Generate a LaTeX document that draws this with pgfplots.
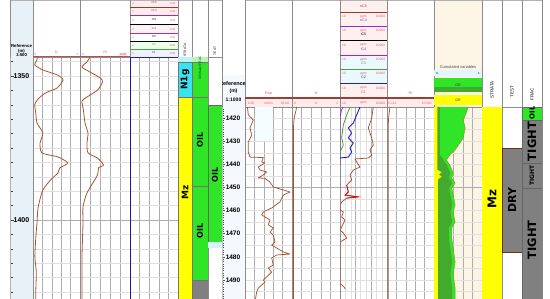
\documentclass[border=0pt]{standalone}
\usepackage{pgfplots}
\pgfplotsset{compat=1.18}
\usepackage{fontspec}
\setmainfont{Liberation Sans}
\newfontfamily\dv{DejaVu Sans}
\definecolor{crv}{RGB}{168,84,48}
\definecolor{hred}{RGB}{190,80,66}
\definecolor{ptxt}{RGB}{222,96,120}
\definecolor{ogreen}{RGB}{48,228,40}
\definecolor{dgreen}{RGB}{66,170,44}
\definecolor{scyan}{RGB}{55,228,240}
\definecolor{syel}{RGB}{255,255,0}
\definecolor{tgray}{RGB}{128,128,128}
\definecolor{beige}{RGB}{252,245,230}
\definecolor{dbg}{RGB}{232,240,248}
\definecolor{gpurp}{RGB}{150,40,220}
\definecolor{gblue}{RGB}{30,30,200}
\definecolor{ggreen}{RGB}{70,160,60}
\definecolor{cfive}{RGB}{150,60,45}
\newcommand{\fsz}[1]{\fontsize{#1}{#1}\selectfont}
\pgfplotsset{
  trk/.style={scale only axis, anchor=north west, y dir=reverse,
    axis line style={draw=black!45, line width=0.4pt},
    major tick length=0pt, minor tick length=0pt,
    xticklabels={}, yticklabels={},
    xmajorgrids, ymajorgrids, yminorgrids,
    major grid style={draw=black!32, line width=0.35pt},
    minor grid style={draw=black!12, line width=0.3pt}},
  box/.style={scale only axis, anchor=north west, y dir=reverse,
    axis line style={draw=black!45, line width=0.4pt},
    xmin=0, xmax=1, xtick=\empty, ytick=\empty},
  lp/.style={ymin=1343.4, ymax=1428.47, height=245pt},
  lpg/.style={lp, ytick={1400}, minor ytick={1345,1350,...,1425}},
  rp/.style={ymin=1415.25, ymax=1499.52, height=195pt},
  rpg/.style={rp, ytick={1450}, minor ytick={1420,1425,...,1495}},
}
\begin{document}
\begin{tikzpicture}
\path[use as bounding box] (0pt,0pt) rectangle (550pt,-299pt);
% backgrounds
\fill[dbg] (10pt,0pt) rectangle (33pt,-302pt);
\fill[dbg!45] (222pt,-75pt) rectangle (245pt,-302pt);
\fill[beige] (434pt,0pt) rectangle (482pt,-107pt);
\fill[red!7] (130pt,0pt) rectangle (178pt,-15pt);
\fill[magenta!5] (130pt,-24pt) rectangle (178pt,-33pt);
\fill[green!8] (130pt,-41pt) rectangle (178pt,-49pt);
\fill[blue!5] (130pt,-49pt) rectangle (178pt,-57pt);
\fill[red!6] (340pt,0pt) rectangle (387pt,-55pt);
\fill[cyan!8] (340pt,-55pt) rectangle (387pt,-84pt);
\fill[red!6] (340pt,-84pt) rectangle (387pt,-98pt);
\fill[red!8] (245pt,-98pt) rectangle (434pt,-107pt);

% ===== LEFT PANEL =====
\begin{axis}[scale only axis, anchor=north west, at={(10pt,-57pt)}, width=23pt, lp, y dir=reverse,
  xmin=0, xmax=1, axis x line=none, axis y line*=left, axis line style={draw=black!30},
  ytick={1350,1400}, minor ytick={1345,1350,...,1425},
  tick align=inside, major tick length=4pt, minor tick length=3pt,
  every tick/.style={black!75, line width=0.5pt},
  yticklabel style={anchor=center, xshift=11.5pt, font=\bfseries\fsz{7}},
  /pgf/number format/assume math mode=true, /pgf/number format/1000 sep={}]
\end{axis}
\begin{axis}[trk, lpg, at={(33pt,-57pt)}, width=47pt, xmin=0, xmax=100, xtick={20,40,60,80}]
\addplot[crv, line width=0.8pt, smooth, tension=0.4] coordinates {(9,1343.4)(8.5,1344.4)(4,1346.2)(21,1347.9)(53,1349.7)(64,1351.4)(51,1354.2)(30,1355.6)(15,1357.3)(4,1359.7)(6,1363)(8.5,1366.3)(21,1369.8)(15,1373.3)(19,1376.7)(53,1378.1)(74,1380.2)(57,1381.9)(53,1383.7)(38,1386)(21,1389.6)(11,1395.5)(8.5,1401)(6,1406)(4,1412.8)(7,1418)(6,1424.3)(6,1428.5)};
\end{axis}
\begin{axis}[trk, lpg, at={(80pt,-57pt)}, width=50pt, xmin=0, xmax=100, xtick={20,40,60,80}]
\addplot[crv, line width=0.8pt, smooth, tension=0.4] coordinates {(20,1343.4)(14,1345.1)(4,1346.9)(20,1348.6)(41,1350.7)(45,1352.1)(35,1354.9)(14,1357.3)(4,1358.7)(7,1362)(10,1366.3)(16,1369.8)(14,1373.3)(16,1376.7)(35,1378.5)(47,1380.9)(37,1381.9)(35,1384.4)(14,1390.6)(6,1395.5)(6,1401)(4,1412.8)(4,1428.5)};
\end{axis}
\begin{axis}[trk, lpg, at={(130pt,-57pt)}, width=48pt, xmin=0, xmax=100, xtick={20,40,60,80}]
\addplot[gblue!80!black, line width=0.8pt] coordinates {(1,1343.4)(1,1428.47)};
\end{axis}
\begin{axis}[box, lp, at={(178pt,-57pt)}, width=14pt]
\addplot[fill=scyan!35, draw=none] coordinates {(0,1343.4)(1,1343.4)(1,1345.1)(0,1345.1)} -- cycle;
\addplot[fill=scyan, draw=black!55, line width=0.3pt] coordinates {(0,1345.1)(1,1345.1)(1,1357.3)(0,1357.3)} -- cycle;
\addplot[fill=syel, draw=black!55, line width=0.3pt] coordinates {(0,1357.3)(1,1357.3)(1,1428.47)(0,1428.47)} -- cycle;
\node[rotate=90, font=\dv\bfseries\fsz{9}] at (axis cs:0.5,1351.2) {N1g};
\node[rotate=90, font=\dv\bfseries\fsz{9}] at (axis cs:0.5,1390.3) {Mz};
\end{axis}
\begin{axis}[box, lp, at={(192pt,-57pt)}, width=16pt]
\addplot[fill=ogreen!35, draw=none] coordinates {(0,1343.4)(1,1343.4)(1,1345.1)(0,1345.1)} -- cycle;
\addplot[fill=ogreen, draw=black!55, line width=0.3pt] coordinates {(0,1345.1)(1,1345.1)(1,1357.3)(0,1357.3)} -- cycle;
\addplot[fill=ogreen, draw=black!55, line width=0.3pt] coordinates {(0,1357.3)(1,1357.3)(1,1388.2)(0,1388.2)} -- cycle;
\addplot[fill=ogreen, draw=black!55, line width=0.3pt] coordinates {(0,1388.2)(1,1388.2)(1,1420.8)(0,1420.8)} -- cycle;
\addplot[fill=tgray, draw=black!55, line width=0.3pt] coordinates {(0,1420.8)(1,1420.8)(1,1428.47)(0,1428.47)} -- cycle;
\node[rotate=90, font=\dv\bfseries\fsz{8}] at (axis cs:0.5,1372.2) {OIL};
\node[rotate=90, font=\dv\bfseries\fsz{8}] at (axis cs:0.5,1403.8) {OIL};
\end{axis}
\begin{axis}[box, lp, at={(208pt,-57pt)}, width=14pt]
\addplot[fill=ogreen, draw=black!60, line width=0.3pt] coordinates {(0,1360.1)(1,1360.1)(1,1407.6)(0,1407.6)} -- cycle;
\addplot[fill=cyan!15, draw=none] coordinates {(0,1407.7)(1,1407.7)(1,1409.7)(0,1409.7)} -- cycle;
\node[rotate=90, font=\dv\bfseries\fsz{8}] at (axis cs:0.5,1384.4) {OIL};
\end{axis}

% ===== RIGHT PANEL =====
\begin{axis}[scale only axis, anchor=north west, at={(222pt,-107pt)}, width=23pt, rp, y dir=reverse,
  xmin=0, xmax=1, axis x line=none, axis y line*=left, axis line style={draw=black!25},
  ytick={1420,1430,...,1490}, minor ytick={1416,1417,...,1499},
  tick align=inside, major tick length=3pt, minor tick length=1.8pt,
  every tick/.style={black!70, line width=0.45pt},
  yticklabel style={anchor=center, xshift=11pt, font=\bfseries\fsz{6.5}},
  /pgf/number format/assume math mode=true, /pgf/number format/1000 sep={}]
\end{axis}
\begin{axis}[trk, rpg, at={(245pt,-107pt)}, width=47pt, xmin=0.56, xmax=56.66, xtick={11.78,23.0,34.22,45.44}]
\addplot[fill=cyan!4, draw=none] coordinates {(12.5,1415.25)(34,1415.25)(34,1430)(12.5,1430)} -- cycle;
\addplot[crv, line width=0.75pt, line join=round] coordinates {(3.5,1415.25)(4.5,1418.7)(10.5,1420.9)(6.5,1424.3)(8.6,1427.3)(4.5,1430.4)(4.5,1434.7)(6.5,1436.9)(22.4,1437.1)(20.5,1439.0)(24.4,1439.4)(16.4,1441.2)(18.5,1442.5)(26.5,1443.3)(22.4,1444.6)(16.4,1445.9)(24.4,1446.1)(30.4,1447.7)(34.3,1449.8)(46.3,1451.1)(54.3,1452.0)(46.3,1453.3)(42.3,1456.3)(32.4,1458.9)(22.4,1460.6)(20.5,1461.9)(26.5,1463.2)(30.4,1464.1)(28.4,1466.2)(34.3,1467.5)(30.4,1469.3)(34.3,1470.6)(36.4,1473.6)(32.4,1474.9)(46.3,1477.9)(54.3,1478.8)(38.4,1479.2)(32.4,1480.5)(34.3,1483.5)(28.4,1484.8)(32.4,1486.6)(26.5,1488.7)(22.4,1490.0)(24.4,1490.9)(16.4,1493.5)(14.5,1495.2)(12.5,1499.5)};
\end{axis}
\begin{axis}[trk, rpg, at={(292pt,-107pt)}, width=48pt, xmin=0, xmax=5, xtick={1,2,3,4}]
\addplot[crv, line width=0.75pt, smooth] coordinates {(0.48,1415.25)(0.4,1417)(0.25,1419.5)(0.17,1423)(0.15,1430)(0.16,1445)(0.15,1460)(0.16,1480)(0.15,1499.52)};
\end{axis}
\begin{axis}[trk, rpg, at={(340pt,-107pt)}, width=47pt, xmode=log, xmin=10, xmax=10000,
  xtick={100,1000}, minor xtick={20,50,200,500,2000,5000}, xminorgrids]
\addplot[gpurp, line width=0.8pt] coordinates {(15,1415.25)(12,1417)(10,1420)(10,1440)};
\addplot[ggreen, line width=0.8pt] coordinates {(43.5,1415.25)(26.8,1418.7)(16.3,1423.0)(12.8,1428.6)(16.3,1431.7)(10,1434.7)(10,1436.9)};
\addplot[gblue, line width=0.9pt] coordinates {(189,1415.25)(116,1418.7)(70.6,1422.2)(33.9,1424.3)(55.8,1426.5)(33.9,1428.6)(70.6,1430.8)(43.5,1433.0)(55.8,1434.7)(33.9,1436.9)(10,1437.3)};
\addplot[crv, line width=0.75pt, line join=round] coordinates {(1336,1415.25)(1054,1420)(640,1424.3)(1054,1428.6)(1336,1431.7)(822,1433.8)(1054,1436.0)(640,1437.3)(90.6,1437.7)(116,1439.0)(189,1441.2)(70.6,1442.5)(43.5,1444.6)(55.8,1446.8)(26.8,1449.0)(33.9,1452.0)(20.8,1453.3)(147,1454.1)(26.8,1454.6)(12.8,1456.3)(10,1457.6)(10,1459.8)(16.3,1460.6)(12.8,1462.8)(20.8,1464.1)(12.8,1467.1)(10,1468.4)(16.3,1469.7)(26.8,1471.9)(10,1473.6)(10,1491.5)(18,1493.0)(22,1494.0)};
\addplot[red!85!black, line width=0.75pt] coordinates {(26.8,1449.0)(33.9,1452.0)(20.8,1453.3)(147,1454.1)(26.8,1454.6)};
\end{axis}
\begin{axis}[trk, rpg, at={(387pt,-107pt)}, width=47pt, xmin=0.113, xmax=83.581, xtick={16.8,33.5,50.2,66.9}]
\addplot[crv, line width=0.75pt, smooth] coordinates {(5.4,1415.25)(4.5,1417)(3,1420)(2.4,1425)(2.5,1450)(2.4,1499.52)};
\end{axis}
\begin{axis}[trk, rpg, at={(434pt,-107pt)}, width=48pt, xmin=0, xmax=1, xtick={0.2,0.4,0.6,0.8},
  axis background/.style={fill=beige}]
\addplot[fill=ogreen, draw=none] coordinates {(0,1415.25)(0.71,1415.25)(0.68,1417.4)(0.61,1420.9)(0.65,1424.3)(0.61,1428.6)(0.51,1431.7)(0.44,1433.8)(0.33,1436.0)(0.26,1438.2)(0.33,1440.3)(0.40,1443.8)(0.37,1445.9)(0.44,1448.1)(0.37,1450.3)(0.40,1453.3)(0.44,1457.6)(0.40,1460.6)(0.44,1464.9)(0.37,1467.5)(0.37,1471.9)(0.40,1476.2)(0.44,1482.2)(0.40,1487.8)(0.44,1493.5)(0.44,1499.52)(0,1499.52)} -- cycle;
\addplot[olive!70!brown, line width=0.4pt] coordinates {(0.71,1415.25)(0.68,1417.4)(0.61,1420.9)(0.65,1424.3)(0.61,1428.6)(0.51,1431.7)(0.44,1433.8)(0.33,1436.0)(0.26,1438.2)(0.33,1440.3)(0.40,1443.8)(0.37,1445.9)(0.44,1448.1)(0.37,1450.3)(0.40,1453.3)(0.44,1457.6)(0.40,1460.6)(0.44,1464.9)(0.37,1467.5)(0.37,1471.9)(0.40,1476.2)(0.44,1482.2)(0.40,1487.8)(0.44,1493.5)(0.44,1499.52)};
\addplot[fill=dgreen, draw=none] coordinates {(0,1415.25)(0.12,1415.25)(0.12,1436.0)(0.18,1437.3)(0.2,1438.2)(0.27,1440.3)(0.34,1443.8)(0.31,1445.9)(0.38,1448.1)(0.31,1450.3)(0.34,1453.3)(0.38,1457.6)(0.34,1460.6)(0.38,1464.9)(0.31,1467.5)(0.31,1471.9)(0.34,1476.2)(0.38,1482.2)(0.34,1487.8)(0.38,1493.5)(0.38,1499.52)(0,1499.52)} -- cycle;
\addplot[fill=syel, draw=none] coordinates {(0,1415.25)(0.07,1415.25)(0.07,1442.5)(0.16,1443.4)(0.1,1444.4)(0.16,1445.4)(0.08,1446.5)(0.08,1499.52)(0,1499.52)} -- cycle;
\end{axis}
\begin{axis}[box, rp, at={(482pt,-107pt)}, width=20pt]
\addplot[fill=syel, draw=none] coordinates {(0,1415.25)(1,1415.25)(1,1499.52)(0,1499.52)} -- cycle;
\node[rotate=90, font=\dv\bfseries\fsz{12}] at (axis cs:0.5,1455) {Mz};
\end{axis}
\begin{axis}[box, rp, at={(502pt,-107pt)}, width=20pt]
\addplot[fill=tgray, draw=crv!60!black, line width=0.4pt] coordinates {(0,1433.0)(1,1433.0)(1,1477.9)(0,1477.9)} -- cycle;
\node[rotate=90, font=\dv\bfseries\fsz{11}] at (axis cs:0.5,1455.4) {DRY};
\end{axis}
\begin{axis}[box, rp, at={(522pt,-107pt)}, width=20pt]
\addplot[fill=ogreen, draw=black!60, line width=0.3pt] coordinates {(0,1415.25)(1,1415.25)(1,1420.9)(0,1420.9)} -- cycle;
\addplot[fill=tgray, draw=black!60, line width=0.3pt] coordinates {(0,1420.9)(1,1420.9)(1,1439.4)(0,1439.4)} -- cycle;
\addplot[fill=tgray, draw=black!60, line width=0.3pt] coordinates {(0,1439.4)(1,1439.4)(1,1450.3)(0,1450.3)} -- cycle;
\addplot[fill=tgray, draw=black!60, line width=0.3pt] coordinates {(0,1450.3)(1,1450.3)(1,1499.52)(0,1499.52)} -- cycle;
\node[rotate=90, font=\dv\bfseries\fsz{7}] at (axis cs:0.5,1417.8) {OIL};
\node[rotate=90, font=\dv\bfseries\fsz{11.5}] at (axis cs:0.5,1430.2) {TIGHT};
\node[rotate=90, font=\dv\bfseries\fsz{6}] at (axis cs:0.5,1444.9) {TIGHT};
\node[rotate=90, font=\dv\bfseries\fsz{11.5}] at (axis cs:0.5,1472.7) {TIGHT};
\end{axis}

% ===== HEADERS =====
\draw[black!30] (10pt,-0.5pt) -- (222pt,-0.5pt);
\draw[black!30] (245pt,-0.5pt) -- (542pt,-0.5pt);
\foreach \x in {10,33,80,130,178,192,208,222}{\draw[black!45, line width=0.4pt] (\x pt,0pt) -- (\x pt,-57pt);}
\foreach \x in {245,292,340,387,434,482,502,522,542}{\draw[black!45, line width=0.4pt] (\x pt,0pt) -- (\x pt,-107pt);}
\node[font=\bfseries\fsz{4.3}] at (21.5pt,-46pt) {Reference};
\node[font=\bfseries\fsz{4.3}] at (21.5pt,-51pt) {(m)};
\node[font=\bfseries\fsz{4.3}] at (21.5pt,-55.5pt) {1:500};
\draw[hred, line width=1pt] (33pt,-57pt) -- (130pt,-57pt);
\node[ptxt, font=\fsz{3.5}] at (56.5pt,-52.5pt) {fs};
\node[ptxt, font=\fsz{3}] at (35.5pt,-54.5pt) {0};
\node[ptxt, font=\fsz{3}] at (77.5pt,-54.5pt) {5};
\node[ptxt, font=\fsz{3.5}] at (105pt,-52.5pt) {Rt};
\node[ptxt, font=\fsz{3}] at (83pt,-54.5pt) {0};
\node[ptxt, font=\fsz{3}, fill=red!12, inner sep=0.6pt] at (123pt,-54.5pt) {1000};
\foreach \ly/\lab/\col in {7/nC5/cfive,15/nC4/gpurp,24/iC5/black,33/iC4/magenta!80!black,41/C3/black,49/C2/ggreen,57/C1/gblue}{
  \draw[\col, line width=0.7pt] (130pt,-\ly pt) -- (178pt,-\ly pt);
  \node[text=\col, font=\fsz{2.8}] at (154pt,{-(\ly-4.5)*1pt}) {\lab};
  \node[ptxt, font=\fsz{2.6}] at (133pt,{-(\ly-3)*1pt}) {0};
  \node[ptxt, font=\fsz{2.6}] at (172.5pt,{-(\ly-3)*1pt}) {1000};
}
\node[rotate=90, font=\fsz{3.3}] at (185pt,-50pt) {STRATA};
\node[rotate=90, font=\fsz{3.3}, text=green!30!black] at (200pt,-68pt) {Oil/Water/FRAC};
\node[rotate=90, font=\fsz{3.3}] at (215pt,-51pt) {TEST};
\begin{scope}
\clip (222.5pt,-70pt) rectangle (245pt,-107pt);
\node[font=\bfseries\fsz{5.5}] at (232.5pt,-84pt) {Reference};
\end{scope}
\node[font=\bfseries\fsz{5}] at (233.5pt,-91pt) {(m)};
\node[font=\bfseries\fsz{5}] at (233.5pt,-100pt) {1:1000};
\foreach \ly/\lab/\col in {12/nC5/cfive,26.3/nC4/gpurp,40.7/iC5/black,55/iC4/gpurp,69.3/C3/ggreen,83.7/C2/gblue}{
  \draw[\col, line width=0.9pt] (340pt,{-\ly*1pt}) -- (387pt,{-\ly*1pt});
  \node[text=\col, font=\fsz{3.6}] at (363.5pt,{-(\ly-6)*1pt}) {\lab};
  \node[ptxt, font=\fsz{3.3}] at (344pt,{-(\ly+4.5)*1pt}) {10};
  \node[ptxt, font=\fsz{3.3}] at (363.5pt,{-(\ly+4.5)*1pt}) {ppm};
  \node[ptxt, font=\fsz{3.3}] at (380.5pt,{-(\ly+4.5)*1pt}) {10000};
}
\draw[hred!80!black, line width=1.2pt] (245pt,-98pt) -- (434pt,-98pt);
\node[ptxt, font=\fsz{3.8}] at (268.5pt,-93.5pt) {Rop};
\node[ptxt, font=\fsz{3.8}] at (316pt,-93.5pt) {fs};
\node[text=crv, font=\fsz{3.6}] at (363.5pt,-92.5pt) {C1};
\node[ptxt, font=\fsz{3.8}] at (410.5pt,-93.5pt) {Rt};
\node[ptxt, font=\fsz{3.3}] at (251pt,-103pt) {0.56};
\node[ptxt, font=\fsz{3.3}] at (268.5pt,-103pt) {m/min};
\node[ptxt, font=\fsz{3.3}] at (285pt,-103pt) {56.66};
\node[ptxt, font=\fsz{3.3}] at (295pt,-103pt) {0};
\node[ptxt, font=\fsz{3.3}] at (316pt,-103pt) {\%};
\node[ptxt, font=\fsz{3.3}] at (337.5pt,-103pt) {5};
\node[ptxt, font=\fsz{3.3}] at (344pt,-103pt) {10};
\node[ptxt, font=\fsz{3.3}] at (363.5pt,-103pt) {ppm};
\node[ptxt, font=\fsz{3.3}] at (380.5pt,-103pt) {10000};
\node[ptxt, font=\fsz{3.3}] at (392.5pt,-103pt) {0.113};
\node[ptxt, font=\fsz{3.3}] at (427pt,-103pt) {83.581};
\node[font=\fsz{4}, text=black!70] at (458pt,-67pt) {Cumulated variables};
\fill[cyan!12] (434.3pt,-70pt) rectangle (481.7pt,-76pt);
\node[font=\fsz{3}] at (437pt,-73pt) {0};
\node[font=\fsz{3}] at (479pt,-73pt) {1};
\fill[ogreen] (434.3pt,-78pt) rectangle (481.7pt,-87pt);
\fill[dgreen] (434.3pt,-87pt) rectangle (481.7pt,-92pt);
\node[font=\fsz{3.5}, text=black!80] at (458pt,-85pt) {GR};
\fill[syel] (434.3pt,-95pt) rectangle (481.7pt,-105pt);
\node[font=\fsz{3.5}, text=black!80] at (458pt,-100pt) {GR};
\node[rotate=90, font=\fsz{4.5}] at (492pt,-90pt) {STRATA};
\node[rotate=90, font=\fsz{4.5}] at (512pt,-92pt) {TEST};
\node[rotate=90, font=\fsz{4.5}] at (532pt,-94pt) {FRAC};
\end{tikzpicture}
\end{document}
